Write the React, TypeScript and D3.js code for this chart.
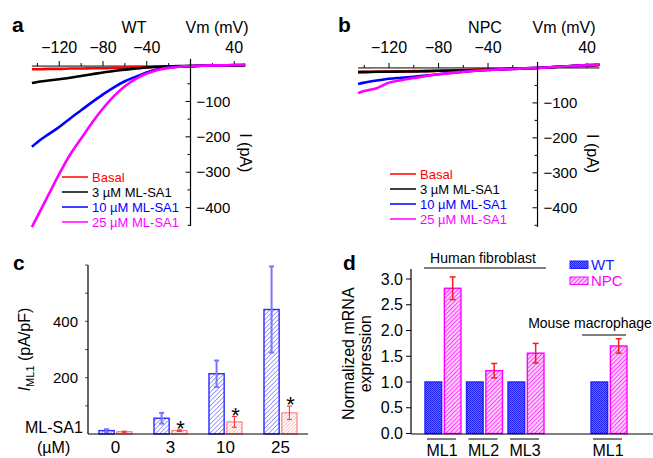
import React from 'react';
import * as d3 from 'd3';

const FONT = 'Liberation Sans, Arial, Helvetica, sans-serif';

// membrane potential (mV) where the I-V traces were sampled
const voltages = [-145, -140, -130, -120, -110, -100, -90, -80, -70, -60, -50, -40, -30, -20, -10, 0, 10, 20, 30, 40, 50];

// panel a, WT currents (pA)
const wtBasal = [-9, -9, -8, -8, -7, -7, -6, -6, -5, -4, -3, -3, -2, -1, -1, 0, 1, 1, 2, 2, 3];
const wt3uM = [-48, -45, -41, -37, -33, -28, -23, -18, -14, -10, -7, -4, -2, -1, 0, 0, 1, 1, 2, 2, 3];
const wt10uM = [-228, -215, -193, -172, -148, -125, -102, -80, -60, -43, -30, -18, -9, -4, -1, 0, 1, 2, 2, 3, 3];
const wt25uM = [-455, -425, -365, -305, -250, -205, -160, -120, -85, -57, -36, -21, -11, -5, -2, 0, 1, 2, 2, 3, 4];

// panel b, NPC currents (pA)
const npcBasal = [-12, -11, -11, -10, -10, -9, -9, -8, -7, -6, -5, -4, -3, -2, -1, 0, 2, 4, 5, 7, 8];
const npc3uM = [-12, -12, -11, -11, -10, -10, -9, -8, -8, -7, -6, -5, -4, -2, -1, 0, 2, 4, 6, 7, 9];
const npc10uM = [-46, -42, -36, -31, -28, -25, -22, -18, -14, -11, -8, -6, -4, -3, -1, 0, 2, 4, 6, 8, 9];
const npc25uM = [-72, -66, -58, -42, -35, -29, -23, -18, -14, -11, -8, -6, -4, -3, -1, 0, 2, 4, 6, 8, 10];

const traceLabels = ['Basal', '3 µM ML-SA1', '10 µM ML-SA1', '25 µM ML-SA1'];
const traceColors = ['#ff0000', '#000000', '#0000ff', '#ff00ff'];

// panel c
const concentrations = ['0', '3', '10', '25'];
const wtDensity = [12, 56, 214, 442];
const wtDensityErr = [5, 19, 47, 153];
const npcDensity = [8, 12, 43, 75];
const npcDensityErr = [2, 3, 19, 24];
const significant = [false, true, true, true];

// panel d
const geneSlots = ['hML1', 'hML2', 'hML3', 'gap', 'mML1'];
const geneKeys = ['hML1', 'hML2', 'hML3', 'mML1'];
const geneLabels = ['ML1', 'ML2', 'ML3', 'ML1'];
const wtExpr = [1, 1, 1, 1];
const npcExpr = [2.82, 1.22, 1.56, 1.70];
const npcExprErr = [0.22, 0.14, 0.19, 0.14];

type IVProps = {
  letter: string;
  title: string;
  titleX: number;
  traces: number[][];
  xRange: [number, number];
  yRange: [number, number];
  yDomain: [number, number];
  legendX: number;
  legendY: number[];
};

const IVPanel = ({ letter, title, titleX, traces, xRange, yRange, yDomain, legendX, legendY }: IVProps) => {
  const x = d3.scaleLinear().domain([-145, 50]).range(xRange);
  const y = d3.scaleLinear().domain(yDomain).range(yRange);
  const line = d3.line<number>()
    .x((_, i) => x(voltages[i]))
    .y(d => y(d))
    .curve(d3.curveMonotoneX);
  const x0 = x(0);
  const y0 = y(0);
  const majorY = [-100, -200, -300, -400];
  const minorY = [-50, -150, -250, -350, -450];
  const majorX = [-120, -80, -40, 40];
  const minorX = [-140, -100, -60, -20, 20];

  return (
    <g fontFamily={FONT}>
      <text x={xRange[0] - 20} y={32} fontSize={21} fontWeight='bold'>{letter}</text>
      <text x={titleX} y={33} fontSize={16} textAnchor='middle'>{title}</text>
      <text x={x0 - 5} y={33} fontSize={16}>Vm (mV)</text>

      {/* x axis at I = 0 */}
      <line x1={x(-145)} x2={x(50)} y1={y0} y2={y0} stroke='#000' />
      {majorX.map(v => (
        <g key={v}>
          <line x1={x(v)} x2={x(v)} y1={y0} y2={y0 - 5} stroke='#000' />
          <text x={x(v)} y={53} fontSize={16} textAnchor='middle'>{String(v).replace('-', '−')}</text>
        </g>
      ))}
      {minorX.map(v => (
        <line key={v} x1={x(v)} x2={x(v)} y1={y0} y2={y0 - 3} stroke='#000' />
      ))}

      {traces.map((t, i) => (
        <path key={i} d={line(t) || ''} fill='none' stroke={traceColors[i]} strokeWidth={2.6} />
      ))}

      {/* y axis at Vm = 0 */}
      <line x1={x0} x2={x0} y1={yRange[0]} y2={yRange[1]} stroke='#000' strokeWidth={1.2} />
      {majorY.map(v => (
        <g key={v}>
          <line x1={x0 - 5} x2={x0} y1={y(v)} y2={y(v)} stroke='#000' />
          <text x={x0 + 6} y={y(v)} dy='0.35em' fontSize={15}>{String(v).replace('-', '−')}</text>
        </g>
      ))}
      {minorY.map(v => (
        <line key={v} x1={x0 - 3} x2={x0} y1={y(v)} y2={y(v)} stroke='#000' />
      ))}
      <text transform={`translate(${x0 + 55},${y(-245)}) rotate(90)`} fontSize={16} textAnchor='middle' dy='0.35em'>I (pA)</text>

      {traceLabels.map((lab, i) => (
        <g key={lab}>
          <line x1={legendX} x2={legendX + 26} y1={legendY[i]} y2={legendY[i]} stroke={traceColors[i]} strokeWidth={1.5} />
          <text x={legendX + 30} y={legendY[i]} dy='0.35em' fontSize={13} fill={traceColors[i]}>{lab}</text>
        </g>
      ))}
    </g>
  );
};

const DensityPanel = () => {
  const x = d3.scaleBand().domain(concentrations).range([88, 308]).paddingInner(0.4).paddingOuter(0.2);
  const sub = d3.scaleBand().domain(['WT', 'NPC']).range([0, x.bandwidth()]).paddingInner(0.15);
  const y = d3.scaleLinear().domain([0, 600]).range([434, 265]);
  const bw = sub.bandwidth();

  return (
    <g fontFamily={FONT}>
      <text x={13} y={270} fontSize={21} fontWeight='bold'>c</text>
      {[100, 200, 300, 400, 500, 600].map(v => (
        <line key={v} x1={85} x2={88} y1={y(v)} y2={y(v)} stroke='#555' />
      ))}
      {[200, 400].map(v => (
        <text key={v} x={78} y={y(v)} dy='0.35em' fontSize={15} textAnchor='end'>{v}</text>
      ))}
      <text transform={`translate(30,${y(300)}) rotate(-90)`} fontSize={16} textAnchor='middle'>
        <tspan fontStyle='italic'>I</tspan>
        <tspan fontSize={11} dy={4}>ML1</tspan>
        <tspan dy={-4}> (pA/pF)</tspan>
      </text>

      {concentrations.map((c, i) => {
        const gx = x(c) as number;
        const bx = gx + (sub('WT') as number);
        const rx = gx + (sub('NPC') as number);
        return (
          <g key={c}>
            <rect x={bx} y={y(wtDensity[i])} width={bw} height={y(0) - y(wtDensity[i])} fill='url(#hatchBlue)' stroke='#2a2aff' strokeWidth={1.4} />
            <rect x={rx} y={y(npcDensity[i])} width={bw} height={y(0) - y(npcDensity[i])} fill='url(#hatchRed)' stroke='#ff6a6a' strokeWidth={1} />
            <g stroke='#7777ff' strokeWidth={2}>
              <line x1={bx + bw / 2} x2={bx + bw / 2} y1={y(wtDensity[i] + wtDensityErr[i])} y2={y(wtDensity[i] - wtDensityErr[i])} />
              <line x1={bx + bw / 2 - 2.5} x2={bx + bw / 2 + 2.5} y1={y(wtDensity[i] + wtDensityErr[i])} y2={y(wtDensity[i] + wtDensityErr[i])} />
              <line x1={bx + bw / 2 - 2.5} x2={bx + bw / 2 + 2.5} y1={y(wtDensity[i] - wtDensityErr[i])} y2={y(wtDensity[i] - wtDensityErr[i])} />
            </g>
            <g stroke='#ff2a2a' strokeWidth={1}>
              <line x1={rx + bw / 2} x2={rx + bw / 2} y1={y(npcDensity[i] + npcDensityErr[i])} y2={y(npcDensity[i] - npcDensityErr[i])} />
              <line x1={rx + bw / 2 - 2.5} x2={rx + bw / 2 + 2.5} y1={y(npcDensity[i] + npcDensityErr[i])} y2={y(npcDensity[i] + npcDensityErr[i])} />
              <line x1={rx + bw / 2 - 2.5} x2={rx + bw / 2 + 2.5} y1={y(npcDensity[i] - npcDensityErr[i])} y2={y(npcDensity[i] - npcDensityErr[i])} />
            </g>
            {significant[i] && (
              <text x={rx + bw / 2 + 1} y={y(npcDensity[i] + npcDensityErr[i]) + 6} fontSize={22} textAnchor='middle'>*</text>
            )}
            <text x={gx + x.bandwidth() / 2} y={453} fontSize={17} textAnchor='middle'>{c}</text>
          </g>
        );
      })}

      <line x1={88} x2={88} y1={265} y2={434} stroke='#000' strokeWidth={1.2} />
      <line x1={88} x2={308} y1={434} y2={434} stroke='#000' strokeWidth={1.2} />
      <text x={25} y={433} fontSize={16}>ML-SA1</text>
      <text x={37} y={453} fontSize={16}>(µM)</text>
    </g>
  );
};

const ExpressionPanel = () => {
  const x = d3.scaleBand().domain(geneSlots).range([425, 627]).paddingInner(0.133);
  const sub = d3.scaleBand().domain(['WT', 'NPC']).range([0, x.bandwidth()]).paddingInner(0.14);
  const y = d3.scaleLinear().domain([0, 3.2]).range([433.5, 268.7]);
  const bw = sub.bandwidth();
  const ticks = [0, 0.5, 1, 1.5, 2, 2.5, 3];

  return (
    <g fontFamily={FONT}>
      <text x={343} y={270} fontSize={21} fontWeight='bold'>d</text>
      {ticks.map(v => (
        <g key={v}>
          <line x1={406} x2={411} y1={y(v)} y2={y(v)} stroke='#000' />
          <text x={403} y={y(v)} dy='0.35em' fontSize={16} textAnchor='end'>{d3.format('.1f')(v)}</text>
        </g>
      ))}
      <text transform={`translate(354,${y(1.55)}) rotate(-90)`} fontSize={16} textAnchor='middle'>Normalized mRNA</text>
      <text transform={`translate(371,${y(1.55)}) rotate(-90)`} fontSize={16} textAnchor='middle'>expression</text>

      {geneKeys.map((g, i) => {
        const gx = x(g) as number;
        const bx = gx + (sub('WT') as number);
        const nx = gx + (sub('NPC') as number);
        const cx = gx + x.bandwidth() / 2;
        const hi = y(npcExpr[i] + npcExprErr[i]);
        const lo = y(npcExpr[i] - npcExprErr[i]);
        return (
          <g key={g}>
            <rect x={bx} y={y(wtExpr[i])} width={bw} height={y(0) - y(wtExpr[i])} fill='url(#checkBlue)' stroke='#2020ff' strokeWidth={1.4} />
            <rect x={nx} y={y(npcExpr[i])} width={bw} height={y(0) - y(npcExpr[i])} fill='url(#hatchMagenta)' stroke='#ff00ff' strokeWidth={1.4} />
            <g stroke='#ff1a1a' strokeWidth={1.5}>
              <line x1={nx + bw / 2} x2={nx + bw / 2} y1={hi} y2={lo} />
              <line x1={nx + bw / 2 - 3} x2={nx + bw / 2 + 3} y1={hi} y2={hi} />
              <line x1={nx + bw / 2 - 3} x2={nx + bw / 2 + 3} y1={lo} y2={lo} />
            </g>
            <line x1={cx - 16} x2={cx + 13} y1={439} y2={439} stroke='#000' />
            <text x={cx - 1} y={456} fontSize={16} textAnchor='middle'>{geneLabels[i]}</text>
          </g>
        );
      })}

      <line x1={411} x2={411} y1={269} y2={434} stroke='#000' strokeWidth={1.2} />
      <line x1={411} x2={653} y1={434} y2={434} stroke='#000' strokeWidth={1.2} />

      <text x={483} y={263} fontSize={14} textAnchor='middle'>Human fibroblast</text>
      <line x1={(x('hML1') as number) - 1} x2={(x('hML3') as number) + x.bandwidth() + 2} y1={268} y2={268} stroke='#000' />
      <text x={590} y={328} fontSize={14} textAnchor='middle'>Mouse macrophage</text>
      <line x1={(x('mML1') as number) - 9} x2={(x('mML1') as number) + x.bandwidth() - 1} y1={335} y2={335} stroke='#000' />

      <rect x={570} y={261} width={18} height={7.5} fill='url(#checkBlue)' stroke='#2020ff' strokeWidth={1} />
      <text x={591} y={270} fontSize={15} fill='#2020ff'>WT</text>
      <rect x={570} y={277} width={18} height={7.5} fill='url(#hatchMagenta)' stroke='#ff00ff' strokeWidth={1} />
      <text x={591} y={286} fontSize={15} fill='#ff00ff'>NPC</text>
    </g>
  );
};

export default function App() {
  return (
    <div style={{ position: 'absolute', left: 0, top: 0 }}>
      <svg width={653} height={458} style={{ display: 'block', background: '#fff' }}>
        <defs>
          <pattern id='hatchBlue' patternUnits='userSpaceOnUse' width={3.2} height={3.2} patternTransform='rotate(45)'>
            <rect width={3.2} height={3.2} fill='#fff' />
            <line x1={0} y1={0} x2={0} y2={3.2} stroke='#4444ff' strokeWidth={1} />
          </pattern>
          <pattern id='hatchRed' patternUnits='userSpaceOnUse' width={2.4} height={2.4} patternTransform='rotate(45)'>
            <rect width={2.4} height={2.4} fill='#fff' />
            <line x1={0} y1={0} x2={0} y2={2.4} stroke='#ff7777' strokeWidth={0.8} />
          </pattern>
          <pattern id='checkBlue' patternUnits='userSpaceOnUse' width={2} height={2}>
            <rect width={2} height={2} fill='#6a6aff' />
            <rect width={1} height={1} fill='#1f1ff0' />
            <rect x={1} y={1} width={1} height={1} fill='#1f1ff0' />
          </pattern>
          <pattern id='hatchMagenta' patternUnits='userSpaceOnUse' width={3} height={3} patternTransform='rotate(45)'>
            <rect width={3} height={3} fill='#ffd0ff' />
            <line x1={0} y1={0} x2={0} y2={3} stroke='#ff00ff' strokeWidth={1.4} />
          </pattern>
        </defs>

        <IVPanel
          letter='a'
          title='WT'
          titleX={134}
          traces={[wtBasal, wt3uM, wt10uM, wt25uM]}
          xRange={[31.9, 245.2]}
          yRange={[59, 226]}
          yDomain={[20, -452]}
          legendX={62}
          legendY={[177, 192, 207, 222]}
        />
        <IVPanel
          letter='b'
          title='NPC'
          titleX={485}
          traces={[npcBasal, npc3uM, npc10uM, npc25uM]}
          xRange={[358.1, 599.4]}
          yRange={[62, 227]}
          yDomain={[17, -455]}
          legendX={390}
          legendY={[174, 189, 204, 219]}
        />
        <DensityPanel />
        <ExpressionPanel />
      </svg>
    </div>
  );
}
